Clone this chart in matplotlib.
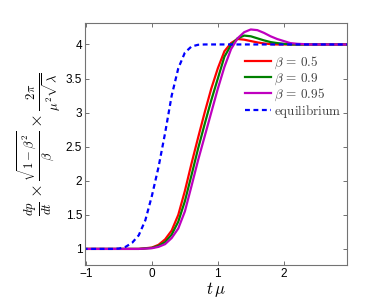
import numpy as np
import matplotlib
matplotlib.use('Agg')
import matplotlib.pyplot as plt

plt.rcParams['mathtext.fontset'] = 'cm'
plt.rcParams['font.family'] = ['Liberation Sans', 'DejaVu Sans']

# ==========================================
# data
# ==========================================
t_beta = [-1.05, -0.5, -0.2, 0.0, 0.1, 0.2, 0.3, 0.4, 0.5, 0.6, 0.7, 0.8, 0.9,
          1.0, 1.1, 1.2, 1.3, 1.4, 1.5, 1.6, 1.7, 1.8, 1.9, 2.0, 2.1, 2.2,
          2.4, 2.7, 3.0]
rate_05 = [1.0, 1.0, 1.0, 1.02, 1.06, 1.14, 1.27, 1.5, 1.85, 2.25, 2.63, 3.0, 3.35,
           3.65, 3.9, 4.02, 4.08, 4.07, 4.05, 4.03, 4.015, 4.005, 4.0, 4.0, 4.0, 4.0,
           4.0, 4.0, 4.0]
rate_09 = [1.0, 1.0, 1.0, 1.015, 1.045, 1.1, 1.21, 1.4, 1.7, 2.08, 2.47, 2.83, 3.18,
           3.5, 3.82, 3.99, 4.09, 4.13, 4.12, 4.09, 4.06, 4.035, 4.02, 4.01, 4.0, 4.0,
           4.0, 4.0, 4.0]
rate_095 = [1.0, 1.0, 1.0, 1.01, 1.03, 1.07, 1.16, 1.3, 1.55, 1.92, 2.3, 2.65, 3.0,
            3.35, 3.67, 3.93, 4.09, 4.18, 4.22, 4.21, 4.17, 4.12, 4.08, 4.05, 4.02, 4.01,
            4.0, 4.0, 4.0]

t_eq = [-1.05, -0.6, -0.5, -0.4, -0.3, -0.2, -0.1, 0.0, 0.1, 0.2, 0.3, 0.4, 0.5,
        0.6, 0.7, 0.8, 3.0]
rate_eq = [1.0, 1.0, 1.005, 1.03, 1.09, 1.2, 1.42, 1.78, 2.2, 2.7, 3.25, 3.65, 3.88,
           3.97, 3.995, 4.0, 4.0]

labels = [r'$\beta\,=\,0.5$', r'$\beta\,=\,0.9$', r'$\beta\,=\,0.95$', r'$\mathrm{equilibrium}$']

# ==========================================
# plot
# ==========================================
fig = plt.figure(figsize=(3.83, 2.98), dpi=100)
ax = fig.add_axes([0.222, 0.111, 0.684, 0.813])

ax.plot(t_beta, rate_05, color=(1, 0, 0), lw=1.6, label=labels[0])
ax.plot(t_beta, rate_09, color=(0, 0.5, 0), lw=1.6, label=labels[1])
ax.plot(t_beta, rate_095, color=(0.75, 0, 0.75), lw=1.6, label=labels[2])
ax.plot(t_eq, rate_eq, color=(0, 0, 1), lw=1.6, ls=(0, (2.2, 1.6)), label=labels[3])

ax.set_xlim(-1.015, 2.96)
ax.set_ylim(0.765, 4.32)
ax.set_xticks([-1, 0, 1, 2])
ax.set_yticks([1, 1.5, 2, 2.5, 3, 3.5, 4])
ax.set_xticklabels(['\u22121', '0', '1', '2'])
ax.set_yticklabels(['1', '1.5', '2', '2.5', '3', '3.5', '4'])
ax.tick_params(direction='in', top=True, right=True, labelsize=8.5,
               length=3, width=0.6, color='0.35', pad=2)
for s in ax.spines.values():
    s.set_color('0.45')
    s.set_linewidth(0.8)

ax.set_xlabel(r'$t\,\mu$', fontsize=12, labelpad=0)
ax.set_ylabel(r'$\frac{dp}{dt}\times\frac{\sqrt{1-\beta^2}}{\beta}\times\frac{2\pi}{\mu^2\sqrt{\lambda}}$',
              fontsize=13, labelpad=2)

leg = ax.legend(loc='upper right', bbox_to_anchor=(1.01, 0.9), frameon=False,
                prop={'size': 9.5},
                handlelength=1.9, handletextpad=0.3, labelspacing=0.0,
                borderpad=0.1)
for txt in leg.get_texts():
    txt.set_color('0.25')

fig.savefig('out.png', dpi=100)
